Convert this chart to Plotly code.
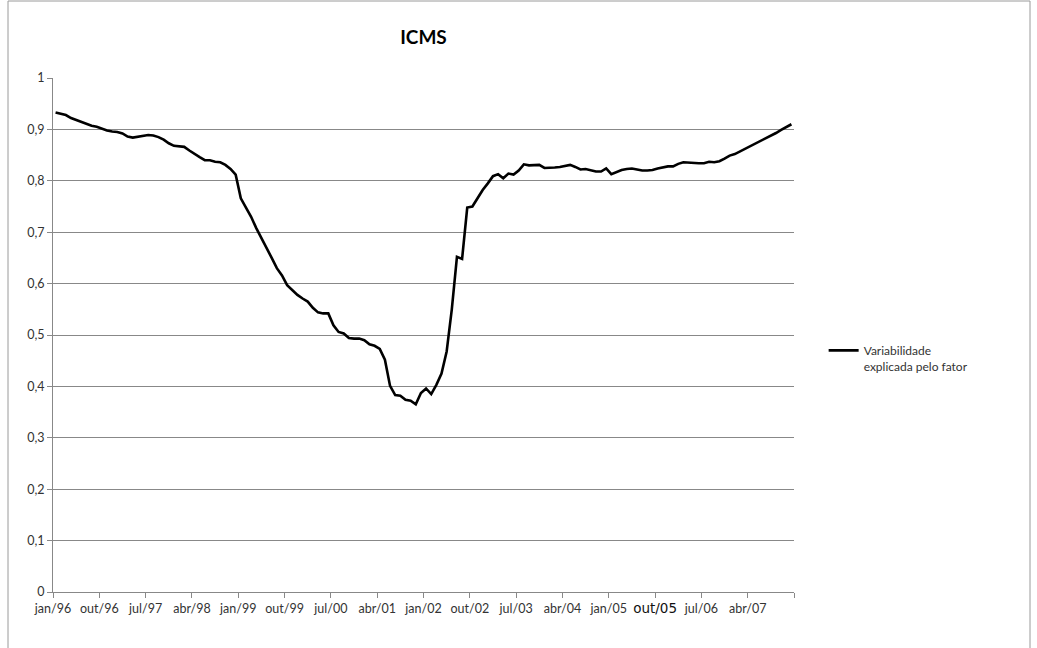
import plotly.graph_objects as go

# Monthly values, jan/96 .. dez/07
values = [
    0.933, 0.931, 0.928, 0.922, 0.918, 0.914, 0.910, 0.907, 0.905, 0.901,
    0.898, 0.896, 0.895, 0.892, 0.886, 0.884, 0.886, 0.888, 0.889, 0.888,
    0.885, 0.880, 0.873, 0.868, 0.867, 0.866, 0.859, 0.852, 0.846, 0.840,
    0.840, 0.837, 0.836, 0.831, 0.823, 0.812, 0.766, 0.748, 0.730, 0.708,
    0.689, 0.672, 0.650, 0.630, 0.616, 0.597, 0.587, 0.578, 0.571, 0.565,
    0.553, 0.544, 0.542, 0.542, 0.519, 0.506, 0.503, 0.494, 0.493, 0.493,
    0.490, 0.482, 0.479, 0.473, 0.452, 0.401, 0.383, 0.382, 0.374, 0.372,
    0.365, 0.387, 0.396, 0.385, 0.403, 0.425, 0.468, 0.550, 0.652, 0.648,
    0.748, 0.750, 0.766, 0.782, 0.795, 0.809, 0.813, 0.805, 0.814, 0.812,
    0.820, 0.832, 0.830, 0.831, 0.831, 0.825, 0.825, 0.826, 0.827, 0.829,
    0.831, 0.827, 0.822, 0.823, 0.820, 0.818, 0.818, 0.824, 0.813, 0.817,
    0.821, 0.823, 0.824, 0.822, 0.820, 0.820, 0.821, 0.824, 0.826, 0.828,
    0.828, 0.833, 0.836, 0.835, 0.834, 0.834, 0.834, 0.837, 0.836, 0.838,
    0.843, 0.849, 0.852, 0.857, 0.863, 0.867, 0.872, 0.877, 0.882, 0.888,
    0.893, 0.899, 0.904, 0.910,
]
tick_labels = ["jan/96", "out/96", "jul/97", "abr/98", "jan/99", "out/99",
               "jul/00", "abr/01", "jan/02", "out/02", "jul/03", "abr/04",
               "jan/05", "out/05", "jul/06", "abr/07", ""]
series_name = "Variabilidade<br>explicada pelo fator"
title = "ICMS"

months = list(range(len(values)))
tickvals = [-0.5 + 9 * k for k in range(len(tick_labels))]
ticktext = [
    ("<span style=\"font-family:'DejaVu Sans';font-size:13.5px;color:#111111\">%s</span>" % t)
    if t == "out/05" else t
    for t in tick_labels
]

FONT = "Lato"
GRAY = "#888888"

fig = go.Figure()
fig.add_trace(go.Scatter(
    x=months, y=values, mode="lines", name=series_name,
    line=dict(color="black", width=2.6),
))

fig.update_layout(
    width=1037, height=648,
    paper_bgcolor="white", plot_bgcolor="white",
    margin=dict(l=53, r=243, t=78, b=56, autoexpand=False),
    separators=", ",
    font=dict(family=FONT, size=12, color="#333333"),
    title=dict(text="<b>%s</b>" % title, x=(53 + 794) / 2 / 1037, xanchor="center",
               y=1 - 37 / 648, yanchor="middle",
               font=dict(family=FONT, size=19, color="black")),
    showlegend=True,
    legend=dict(x=1.04, y=0.498, xanchor="left", yanchor="top",
                valign="top", font=dict(family=FONT, size=12, color="#333333"),
                bgcolor="rgba(0,0,0,0)"),
    xaxis=dict(range=[-0.5, 143.5], tickmode="array", tickvals=tickvals,
               ticktext=ticktext, ticks="outside", ticklen=5, tickcolor=GRAY,
               showline=True, linecolor=GRAY, linewidth=1, showgrid=False,
               zeroline=False, tickfont=dict(family=FONT, size=12.5, color="#333333")),
    yaxis=dict(range=[0, 1], dtick=0.1, tick0=0, ticks="outside", ticklen=5,
               tickcolor=GRAY, showline=True, linecolor=GRAY, linewidth=1,
               showgrid=True, gridcolor=GRAY, gridwidth=1, zeroline=False,
               tickfont=dict(family=FONT, size=12.5, color="#333333")),
    shapes=[dict(type="rect", xref="paper", yref="paper",
                 x0=(8 - 53) / 741, x1=(1030 - 53) / 741,
                 y0=(592 - 652) / 514, y1=(592 - 1) / 514,
                 line=dict(color="#9a9a9a", width=1), fillcolor="rgba(0,0,0,0)")],
)

fig.write_html("out.html", config={"displayModeBar": False},
               post_script="document.body.style.margin='0';document.body.style.overflow='hidden';")
